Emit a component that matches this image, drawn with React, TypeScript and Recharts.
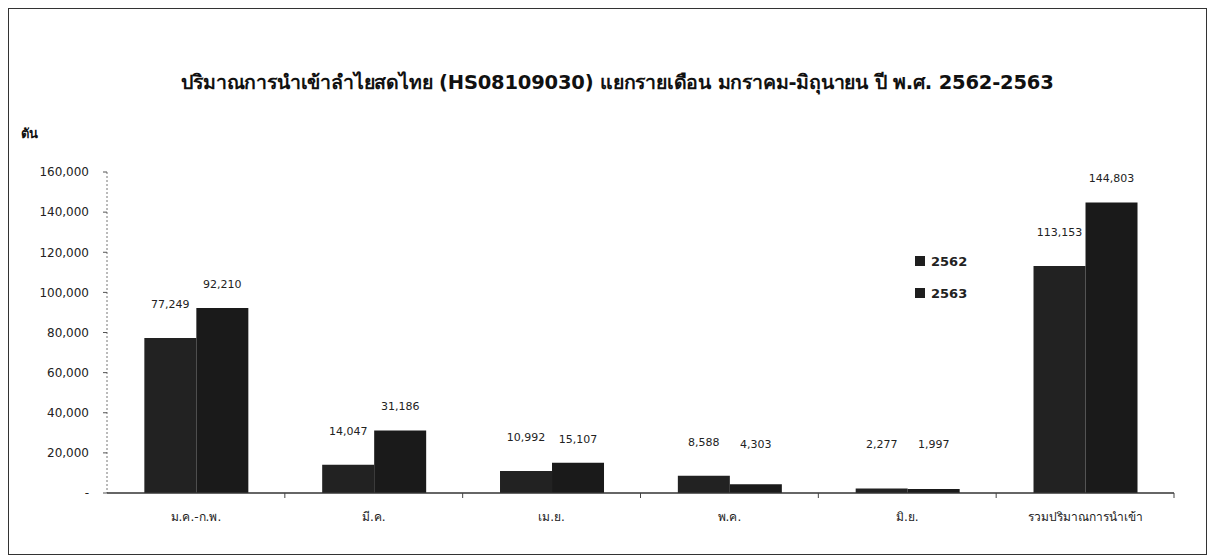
import React from "react";
import { BarChart, Bar, XAxis, YAxis, Legend, LabelList } from "recharts";

const categories = [
  "ม.ค.-ก.พ.",
  "มี.ค.",
  "เม.ย.",
  "พ.ค.",
  "มิ.ย.",
  "รวมปริมาณการนำเข้า",
];
const values2562 = [77249, 14047, 10992, 8588, 2277, 113153];
const values2563 = [92210, 31186, 15107, 4303, 1997, 144803];
const yTicks = [0, 20000, 40000, 60000, 80000, 100000, 120000, 140000, 160000];
const seriesNames = ["2562", "2563"];

const data = categories.map((month, i) => ({
  month,
  y2562: values2562[i],
  y2563: values2563[i],
}));

const FONT = "Tahoma, 'DejaVu Sans', 'Noto Sans', sans-serif";
const fmt = (v: number) => (v === 0 ? "-" : v.toLocaleString("en-US"));

// x ticks: label centred under the group, tick mark on the group boundary
const XTick = (props: any) => {
  const { x, y, payload } = props;
  const half = payload.offset ?? 89;
  return (
    <g>
      <line x1={x + half} x2={x + half} y1={y - 8} y2={y - 3} stroke="#444" />
      <text
        x={x}
        y={y + 20}
        textAnchor="middle"
        fontSize={12}
        fontFamily={FONT}
        fill="#222"
      >
        {payload.value}
      </text>
    </g>
  );
};

// value labels: sit above the bar, never closer to the axis than ~45px
const makeLabel = (gap: number, axisY: number) => (props: any) => {
  const { x, y, width, value } = props;
  const ty = Math.min(y - gap, axisY - 45);
  return (
    <text
      x={x + width / 2}
      y={ty}
      textAnchor="middle"
      fontSize={11}
      fontFamily={FONT}
      fill="#222"
    >
      {fmt(value)}
    </text>
  );
};

const renderLegend = () => (
  <div style={{ fontFamily: FONT, fontWeight: "bold", fontSize: 13 }}>
    {seriesNames.map((name) => (
      <div
        key={name}
        style={{ display: "flex", alignItems: "center", height: 32 }}
      >
        <span
          style={{
            width: 10,
            height: 10,
            background: "#1e1e1e",
            marginRight: 6,
            display: "inline-block",
          }}
        />
        <span style={{ color: "#222" }}>{name}</span>
      </div>
    ))}
  </div>
);

export default function App() {
  const W = 1197;
  const H = 545;
  const axisY = H - 61;
  return (
    <div
      style={{
        position: "relative",
        width: W,
        height: H,
        border: "1px solid #333",
        background: "#fff",
      }}
    >
      <div
        style={{
          position: "absolute",
          top: 58,
          left: 10,
          width: W,
          textAlign: "center",
          fontFamily: FONT,
          fontWeight: "bold",
          fontSize: 19.5,
          letterSpacing: -0.2,
          color: "#111",
        }}
      >
        ปริมาณการนำเข้าลำไยสดไทย (HS08109030) แยกรายเดือน มกราคม-มิถุนายน ปี พ.ศ. 2562-2563
      </div>
      <div
        style={{
          position: "absolute",
          top: 114,
          left: 12,
          fontFamily: FONT,
          fontWeight: "bold",
          fontSize: 13,
          color: "#111",
        }}
      >
        ตัน
      </div>
      <BarChart
        width={W}
        height={H}
        data={data}
        margin={{ top: 163, right: 32, left: 0, bottom: 31 }}
        barCategoryGap="21%"
        barGap={0}
      >
        <YAxis
          width={98}
          domain={[0, 160000]}
          ticks={yTicks}
          tickFormatter={fmt}
          axisLine={{ stroke: "#777", strokeDasharray: "2 2" }}
          tickLine={{ stroke: "#555" }}
          tickSize={4}
          tickMargin={14}
          tick={{ fontSize: 12, fontFamily: FONT, fill: "#222" }}
        />
        <XAxis
          dataKey="month"
          height={30}
          axisLine={{ stroke: "#333", strokeWidth: 1.5 }}
          tickLine={false}
          tick={<XTick />}
          interval={0}
        />
        <Legend
          layout="vertical"
          verticalAlign="middle"
          align="center"
          wrapperStyle={{ left: 906, top: 236, width: 90 }}
          content={renderLegend}
        />
        <Bar dataKey="y2562" name="2562" fill="#222" isAnimationActive={false}>
          <LabelList dataKey="y2562" content={makeLabel(30, axisY)} />
        </Bar>
        <Bar dataKey="y2563" name="2563" fill="#1a1a1a" isAnimationActive={false}>
          <LabelList dataKey="y2563" content={makeLabel(20, axisY)} />
        </Bar>
      </BarChart>
    </div>
  );
}
